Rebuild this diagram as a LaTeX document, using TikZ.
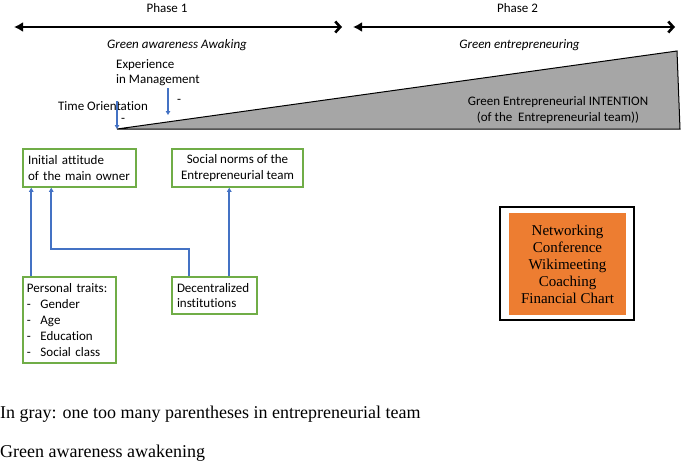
\documentclass[tikz,border=0pt]{standalone}
\usepackage{fontspec}
\setmainfont{Carlito}[Ligatures={NoCommon}]
\newfontfamily\timesf{Liberation Serif}
\usetikzlibrary{arrows.meta}
\definecolor{mblue}{HTML}{4472C4}
\definecolor{mgreen}{HTML}{70AD47}
\definecolor{morange}{HTML}{ED7D31}
\definecolor{mgray}{HTML}{A6A6A6}
\begin{document}
\begin{tikzpicture}[x=1pt,y=-1pt,
  every node/.style={font=\fontsize{13}{15.5}\selectfont, inner sep=0pt},
  phasearrow/.style={line width=2.6pt, {Latex[length=9pt,width=10pt]}-{Straight Barb[length=5pt,width=11pt]}},
  barrow/.style={draw=mblue, line width=1.9pt, -{Triangle[length=4pt,width=4.5pt]}},
  gbox/.style={draw=mgreen, line width=1.5pt},
  lbl/.style={},
  ilbl/.style={font=\fontsize{13}{15.5}\selectfont\itshape},
  tnote/.style={font=\timesf\fontsize{18}{21}\selectfont, anchor=base west}
]
\useasboundingbox (0,0) rectangle (685,463);

% phases
\node[lbl] (ph1) at (167,8) {Phase 1};
\node[lbl] (ph2) at (517.5,8) {Phase 2};
\coordinate (p1l) at (14,27);
\coordinate (p1r) at (342,27);
\coordinate (p2l) at (353,27);
\coordinate (p2r) at (675,27);
\draw[phasearrow] (p1l) -- (p1r);
\draw[phasearrow] (p2l) -- (p2r);
\node[ilbl] (gaw) at (177,45) {Green awareness Awaking};
\node[ilbl] (gen) at (519.5,45) {Green entrepreneuring};

% intention wedge
\coordinate (apex) at (117,129);
\coordinate (tr) at (677,51);
\coordinate (br) at (680,129);
\draw[fill=mgray, line width=1pt] (apex) -- (tr) -- (br) -- cycle;
\node[align=center] (gei) at (558,110) {Green Entrepreneurial INTENTION\\(of the\ \ Entrepreneurial team))};

% time orientation
\node[lbl] (tor) at (103,106) {Time Orientation};
\coordinate (to1) at (117,101);
\draw[barrow] (to1) -- (apex);
\node[lbl] (m1) at (123,120) {-};

% experience in management
\node[anchor=west, align=left] (exp) at (116,72.5) {Experience\\in Management};
\coordinate (ex1) at (168,88);
\coordinate (ex2) at (168,115);
\draw[barrow] (ex1) -- (ex2);
\node[lbl] (m2) at (179,101) {-};

% boxes
\node[gbox, minimum width=113pt, minimum height=38pt, text width=103pt, align=left] (ia) at (79.5,168) {Initial attitude\\of the main owner};
\node[gbox, minimum width=131pt, minimum height=38pt, align=center] (sn) at (237.5,168) {Social norms of the\\Entrepreneurial team};
\node[gbox, minimum width=93pt, minimum height=86pt, text width=85pt, align=left, font=\fontsize{13}{16}\selectfont] (pt) at (69.5,320) {Personal traits:\\-\hspace{9.5pt}Gender\\-\hspace{9.5pt}Age\\-\hspace{9.5pt}Education\\-\hspace{9.5pt}Social class};
\node[gbox, minimum width=85pt, minimum height=37pt, text width=75pt, align=left] (dc) at (214.5,295.5) {Decentralized\\institutions};

% connectors
\draw[barrow] ([xshift=9pt]pt.north west) -- ([xshift=9pt]ia.south west);
\draw[barrow] ([xshift=18pt]dc.north west) -- ++(0,-27) -| ([xshift=29pt]ia.south west);
\draw[barrow] ([xshift=58pt]dc.north west) -- ([xshift=58pt]sn.south west);

% activities
\node[draw, line width=1.3pt, minimum width=134pt, minimum height=113pt] (frame) at (567,263.5) {};
\node[fill=morange, minimum width=117pt, minimum height=102pt, align=center, font=\timesf\fontsize{15}{17}\selectfont] (act) at (567.5,264) {Networking\\Conference\\Wikimeeting\\Coaching\\Financial Chart};

% notes
\node[tnote] (n1) at (0,418) {In gray: one too many parentheses in entrepreneurial team};
\node[tnote] (n2) at (0,457) {Green awareness awakening};
\end{tikzpicture}
\end{document}
